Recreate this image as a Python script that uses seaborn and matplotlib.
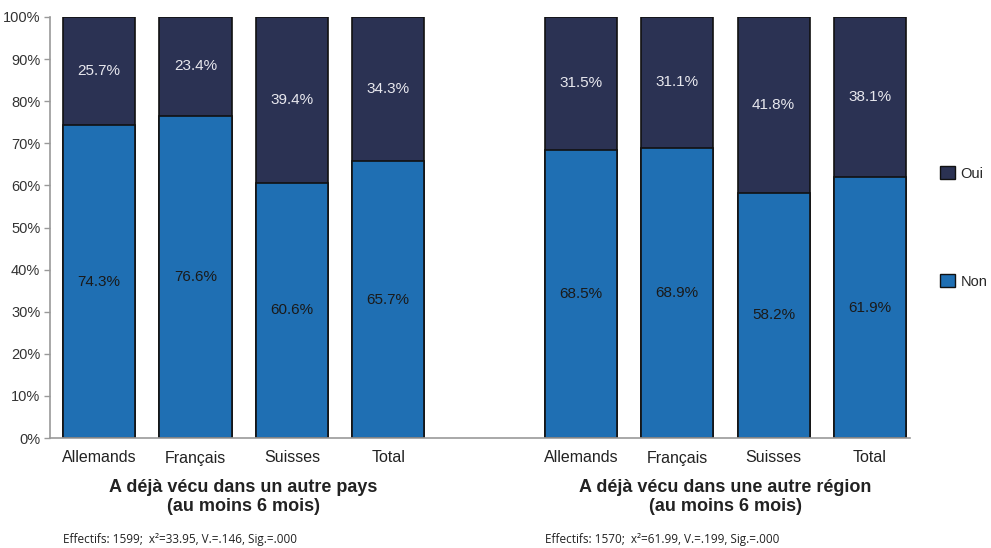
import matplotlib
matplotlib.use("Agg")
import matplotlib.pyplot as plt
import seaborn as sns
import pandas as pd
from matplotlib.patches import Patch

categories = ["Allemands", "Français", "Suisses", "Total"]
non_pays = [74.3, 76.6, 60.6, 65.7]
oui_pays = [25.7, 23.4, 39.4, 34.3]
non_region = [68.5, 68.9, 58.2, 61.9]
oui_region = [31.5, 31.1, 41.8, 38.1]
titles = ["A déjà vécu dans un autre pays\n(au moins 6 mois)",
          "A déjà vécu dans une autre région\n(au moins 6 mois)"]
notes = ["Effectifs: 1599;  x²=33.95, V.=.146, Sig.=.000",
         "Effectifs: 1570;  x²=61.99, V.=.199, Sig.=.000"]
series_labels = ["Oui", "Non"]

c_non = "#1f6fb3"
c_oui = "#2b3253"

sns.set_theme(style="white")
plt.rcParams["font.family"] = ["Liberation Sans", "DejaVu Sans"]

pos = [0, 1, 2, 3, 5, 6, 7, 8]
non = non_pays + non_region
oui = oui_pays + oui_region
df = pd.DataFrame({
    "x": pos,
    "non": non,
    "total": [n + o for n, o in zip(non, oui)],
    "oui": oui,
})

W, H = 991, 548
fig = plt.figure(figsize=(W / 100, H / 100), dpi=100)
ax = fig.add_axes([50 / W, 1 - 438 / H, 860 / W, 421 / H])

sns.barplot(data=df, x="x", y="total", native_scale=True, width=0.75,
            color=c_oui, saturation=1, edgecolor="#111111", linewidth=1.2, ax=ax)
sns.barplot(data=df, x="x", y="non", native_scale=True, width=0.75,
            color=c_non, saturation=1, edgecolor="#111111", linewidth=1.2, ax=ax)

for x, n, o in zip(df["x"], df["non"], df["oui"]):
    ax.text(x, n / 2, f"{n:.1f}%", ha="center", va="center", fontsize=11, color="#1a1a1a")
    ax.text(x, n + o / 2, f"{o:.1f}%", ha="center", va="center", fontsize=11, color="#e8e8ee")

ax.set_xlim(-0.51, 8.415)
ax.set_ylim(0, 100)
ax.set_yticks(range(0, 101, 10))
ax.set_yticklabels([f"{v}%" for v in range(0, 101, 10)], fontsize=10.5, color="#333333")
ax.set_xticks(pos)
ax.set_xticklabels(categories * 2, fontsize=11.5, color="#222222")
ax.tick_params(axis="y", which="both", left=True, length=4, color="#999999", width=1, pad=3)
ax.tick_params(axis="x", bottom=False, pad=3)
ax.set_xlabel("")
ax.set_ylabel("")
for s in ["top", "right"]:
    ax.spines[s].set_visible(False)
for s in ["left", "bottom"]:
    ax.spines[s].set_color("#999999")
    ax.spines[s].set_linewidth(1.2)

def fx(xd):
    return ax.transData.transform((xd, 0))[0] / fig.bbox.width

for i, (t, nt) in enumerate(zip(titles, notes)):
    center = 1.5 + 5 * i
    fig.text(fx(center), 1 - 497 / H, t, ha="center", va="center", fontsize=13,
             fontweight="bold", color="#222222", linespacing=1.15)
    fig.text(fx(-0.375 + 5 * i), 1 - 539 / H, nt, ha="left", va="center", fontsize=8.5,
             color="#222222", family=["Open Sans", "DejaVu Sans"])

handles = [Patch(facecolor=c_oui, edgecolor="#111111"),
           Patch(facecolor=c_non, edgecolor="#111111")]
fig.legend(handles, series_labels, loc="upper left", bbox_to_anchor=(927 / W, 1 - 153 / H),
           frameon=False, fontsize=10.5, labelspacing=6.4, handlelength=1.0, handleheight=1.0,
           handletextpad=0.4)

fig.savefig("out.png", dpi=100)
